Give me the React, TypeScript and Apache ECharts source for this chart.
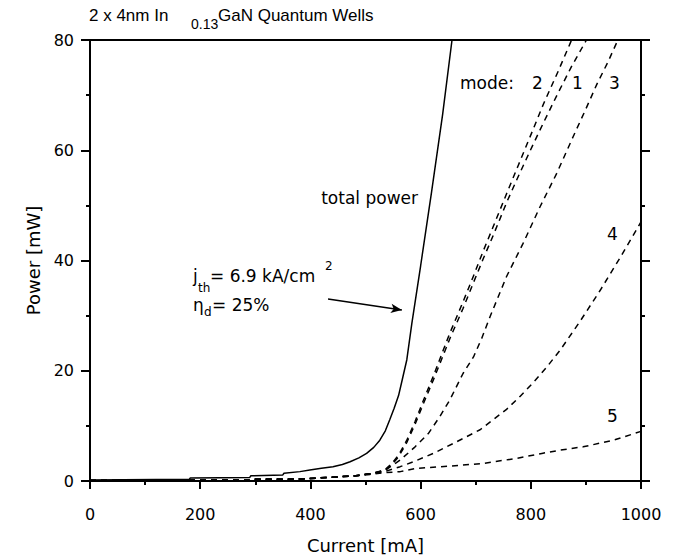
import { useEffect, useRef } from "react";
import * as echarts from "echarts";

// Light output vs. drive current of a 2 x 4 nm InGaN quantum-well laser
const totalCurrent = [0, 180, 182, 290, 292, 350, 352, 381, 399, 420, 441, 458, 472, 488, 502, 515, 526, 536, 544, 552, 560, 567, 575, 584, 600, 620, 640, 657];
const totalPower = [0.2, 0.3, 0.55, 0.65, 0.95, 1.1, 1.4, 1.7, 2.0, 2.3, 2.6, 3.0, 3.5, 4.2, 5.0, 6.1, 7.4, 9.1, 11.1, 13.2, 15.5, 18.5, 22.0, 28.5, 39.0, 52.5, 66.5, 80];

const mode1Current = [0, 290, 292, 381, 441, 477, 508, 535, 548, 560, 575, 590, 605, 623, 641, 653, 677, 696, 714, 732, 756, 777, 803, 823, 850, 874, 901];
const mode1Power = [0.1, 0.15, 0.3, 0.35, 0.7, 0.9, 1.3, 1.9, 3.0, 4.4, 7.0, 10.3, 14.0, 18.3, 22.8, 25.8, 31.3, 36.0, 40.4, 44.6, 50.5, 55.2, 60.8, 65.0, 70.5, 75.2, 80];

const mode2Current = [0, 290, 292, 381, 441, 477, 508, 535, 548, 560, 575, 590, 605, 623, 641, 653, 677, 696, 714, 732, 756, 777, 803, 823, 850, 874];
const mode2Power = [0.1, 0.15, 0.3, 0.35, 0.7, 0.9, 1.3, 2.0, 3.2, 4.7, 7.4, 10.8, 14.6, 19.0, 23.7, 26.8, 32.5, 37.2, 41.8, 46.2, 52.1, 57.2, 63.5, 68.4, 74.4, 80];

const mode3Current = [0, 290, 292, 381, 441, 477, 508, 535, 550, 563, 590, 614, 635, 653, 677, 696, 711, 726, 756, 786, 817, 847, 877, 900, 920, 940, 958];
const mode3Power = [0.1, 0.15, 0.3, 0.35, 0.7, 0.9, 1.3, 1.9, 2.9, 3.8, 6.2, 8.6, 11.7, 14.7, 19.5, 22.5, 25.9, 29.8, 37.1, 43.1, 49.8, 55.8, 62.5, 67.5, 72, 76, 80];

const mode4Current = [0, 290, 292, 381, 441, 477, 508, 535, 563, 587, 623, 665, 708, 756, 780, 805, 830, 853, 889, 926, 962, 1000];
const mode4Power = [0.1, 0.15, 0.3, 0.35, 0.7, 0.9, 1.3, 1.7, 2.6, 3.5, 5.0, 7.1, 9.3, 13.0, 15.3, 17.9, 20.8, 23.7, 28.9, 34.6, 40.5, 47];

const mode5Current = [0, 290, 292, 381, 441, 477, 508, 535, 563, 593, 653, 714, 774, 820, 853, 895, 950, 1000];
const mode5Power = [0.1, 0.15, 0.3, 0.35, 0.7, 0.9, 1.2, 1.5, 1.7, 2.3, 2.7, 3.2, 4.1, 5.0, 5.6, 6.2, 7.4, 9.0];

// Arrow pointing at the total-power curve (current mA, power mW)
const arrowFrom = [432, 33];
const arrowTo = [566, 31];

const FONT = "DejaVu Sans";
const TITLE_FONT = "Liberation Sans";

const pairs = (xs: number[], ys: number[]) => xs.map((x, i) => [x, ys[i]]);

const txt = (text: string, x: number, y: number, size: number, family = FONT, align = "left") => ({
  type: "text",
  x,
  y,
  silent: true,
  style: {
    text,
    fill: "#000",
    fontSize: size,
    fontFamily: family,
    textAlign: align,
    textVerticalAlign: "middle",
  },
});

export default function App() {
  const ref = useRef<HTMLDivElement>(null);

  useEffect(() => {
    if (!ref.current) return;
    const chart = echarts.init(ref.current, undefined, { renderer: "svg" });

    const dashed = (name: string, xs: number[], ys: number[]) => ({
      name,
      type: "line",
      data: pairs(xs, ys),
      showSymbol: false,
      symbol: "none",
      smooth: false,
      lineStyle: { color: "#000", width: 1.5, type: [6, 5] },
      emphasis: { disabled: true },
      z: 3,
    });

    const axisLine = { show: true, onZero: false, lineStyle: { color: "#000", width: 2 } };

    chart.setOption({
      animation: false,
      backgroundColor: "#fff",
      grid: { left: 90, right: 37, top: 40, bottom: 79, containLabel: false },
      xAxis: [
        {
          type: "value",
          min: 0,
          max: 1000,
          interval: 200,
          position: "bottom",
          axisLine,
          axisTick: { show: true, inside: false, length: 8, lineStyle: { color: "#000", width: 2 } },
          minorTick: { show: true, splitNumber: 2, length: 4, lineStyle: { color: "#000", width: 2 } },
          splitLine: { show: false },
          axisLabel: {
            color: "#000",
            fontSize: 16,
            fontFamily: FONT,
            margin: 25,
            formatter: (v: number) => String(v),
          },
          name: "Current [mA]",
          nameLocation: "middle",
          nameGap: 55,
          nameTextStyle: { color: "#000", fontSize: 18, fontFamily: FONT },
        },
        {
          type: "value",
          min: 0,
          max: 1000,
          position: "top",
          axisLine,
          axisTick: { show: false },
          axisLabel: { show: false },
          splitLine: { show: false },
        },
      ],
      yAxis: [
        {
          type: "value",
          min: 0,
          max: 80,
          interval: 20,
          position: "left",
          axisLine,
          axisTick: { show: true, inside: false, length: 9, lineStyle: { color: "#000", width: 2 } },
          minorTick: { show: true, splitNumber: 2, length: 4, lineStyle: { color: "#000", width: 2 } },
          splitLine: { show: false },
          axisLabel: { color: "#000", fontSize: 16, fontFamily: FONT, margin: 16 },
          name: "Power [mW]",
          nameLocation: "middle",
          nameGap: 46,
          nameTextStyle: { color: "#000", fontSize: 18, fontFamily: FONT },
        },
        {
          type: "value",
          min: 0,
          max: 80,
          interval: 20,
          position: "right",
          axisLine,
          axisTick: { show: true, inside: false, length: 9, lineStyle: { color: "#000", width: 2 } },
          minorTick: { show: true, splitNumber: 2, length: 4, lineStyle: { color: "#000", width: 2 } },
          splitLine: { show: false },
          axisLabel: { show: false },
        },
      ],
      series: [
        {
          name: "total power",
          type: "line",
          data: pairs(totalCurrent, totalPower),
          showSymbol: false,
          symbol: "none",
          smooth: false,
          lineStyle: { color: "#000", width: 1.5 },
          emphasis: { disabled: true },
          z: 4,
          markLine: {
            silent: true,
            symbol: ["none", "arrow"],
            symbolSize: [7, 11],
            label: { show: false },
            lineStyle: { color: "#000", width: 1.5, type: "solid" },
            emphasis: { disabled: true },
            data: [[{ coord: arrowFrom }, { coord: arrowTo }]],
          },
        },
        dashed("mode 1", mode1Current, mode1Power),
        dashed("mode 2", mode2Current, mode2Power),
        dashed("mode 3", mode3Current, mode3Power),
        dashed("mode 4", mode4Current, mode4Power),
        dashed("mode 5", mode5Current, mode5Power),
      ],
      graphic: [
        txt("2 x 4nm In", 89, 15, 17, TITLE_FONT),
        txt("0.13", 191, 24, 14, TITLE_FONT),
        txt("GaN Quantum Wells", 218, 15, 17, TITLE_FONT),
        txt("mode:", 460, 83, 17),
        txt("2", 532, 83, 17),
        txt("1", 572, 83, 17),
        txt("3", 609, 83, 17),
        txt("4", 607, 234, 17),
        txt("5", 607, 416, 17),
        txt("total power", 418, 198, 17, FONT, "right"),
        txt("j", 193, 276, 17),
        txt("th", 198, 288, 12),
        txt("= 6.9 kA/cm", 210, 276, 17),
        txt("2", 325, 266, 12),
        txt("η", 193, 305, 17),
        txt("d", 204, 312, 12),
        txt("= 25%", 212, 305, 17),
      ],
    });

    return () => chart.dispose();
  }, []);

  return (
    <div
      ref={ref}
      style={{ position: "fixed", left: 0, top: 0, width: 678, height: 560 }}
    />
  );
}
